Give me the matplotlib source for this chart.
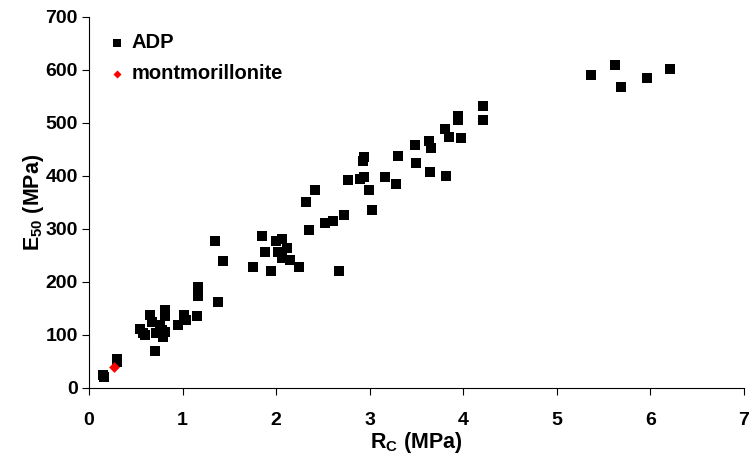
import matplotlib
matplotlib.use("Agg")
import matplotlib.pyplot as plt

plt.rcParams['font.family'] = ['Liberation Sans', 'DejaVu Sans']
plt.rcParams['font.weight'] = 'bold'

# ADP samples: compressive strength Rc (MPa) and E50 (MPa)
adp_rc = [0.15, 0.16, 0.30, 0.30,
          0.545, 0.58, 0.60, 0.65, 0.67, 0.705, 0.72, 0.76, 0.78, 0.81, 0.81, 0.81, 0.79,
          0.95, 1.01, 1.04, 1.15, 1.17, 1.17, 1.35, 1.38, 1.43,
          1.75, 1.85, 1.88, 1.95, 2.00, 2.02, 2.06, 2.06, 2.12, 2.15, 2.24,
          2.32, 2.35, 2.42, 2.52, 2.61, 2.67, 2.73, 2.77, 2.90, 2.93, 2.94, 2.94,
          2.99, 3.02, 3.16, 3.28, 3.30, 3.48, 3.49, 3.63, 3.64, 3.65,
          3.80, 3.82, 3.85, 3.94, 3.94, 3.98, 4.21, 4.21,
          5.37, 5.62, 5.69, 5.96, 6.21]
adp_e50 = [25, 21, 49, 55,
           111, 103, 100, 138, 125, 70, 103, 119, 110, 147, 135, 106, 97,
           119, 138, 128, 136, 174, 190, 278, 162, 239,
           229, 286, 256, 221, 278, 256, 282, 246, 265, 241, 229,
           350, 298, 373, 312, 315, 221, 327, 393, 395, 429, 436, 399,
           374, 335, 398, 385, 438, 459, 424, 466, 407, 452,
           489, 400, 473, 513, 505, 472, 532, 505,
           590, 610, 568, 585, 601]

mont_rc = [0.27]
mont_e50 = [40]

fig = plt.figure(figsize=(7.5, 4.59), dpi=100)
ax = fig.add_axes([0.1187, 0.1547, 0.8733, 0.8083])

ax.scatter(adp_rc, adp_e50, marker='s', s=50, color='black', linewidths=0,
           label='ADP', zorder=2)
ax.scatter(mont_rc, mont_e50, marker='D', s=30, color='red', linewidths=0,
           label='montmorillonite', zorder=3)

ax.set_xlim(0, 7)
ax.set_ylim(0, 700)
ax.set_xticks(range(0, 8))
ax.set_yticks(range(0, 701, 100))
ax.spines['top'].set_visible(False)
ax.spines['right'].set_visible(False)
ax.tick_params(direction='out', length=5, labelsize=14)
ax.tick_params(axis='x', pad=12)
ax.tick_params(axis='y', pad=3)
for lab in ax.get_xticklabels() + ax.get_yticklabels():
    lab.set_fontweight('bold')

ax.set_xlabel(r'R$_\mathregular{C}$ (MPa)', fontsize=15.5, fontweight='bold', labelpad=1)
ax.set_ylabel(r'E$_\mathregular{50}$ (MPa)', fontsize=15.5, fontweight='bold', labelpad=0)

ax.legend(loc='upper left', frameon=False, fontsize=14.5, handletextpad=0.1,
          labelspacing=0.6, borderaxespad=0.4, handlelength=1.2,
          markerscale=0.75, bbox_to_anchor=(0.0, 1.0))

fig.savefig('out.png', dpi=100)
